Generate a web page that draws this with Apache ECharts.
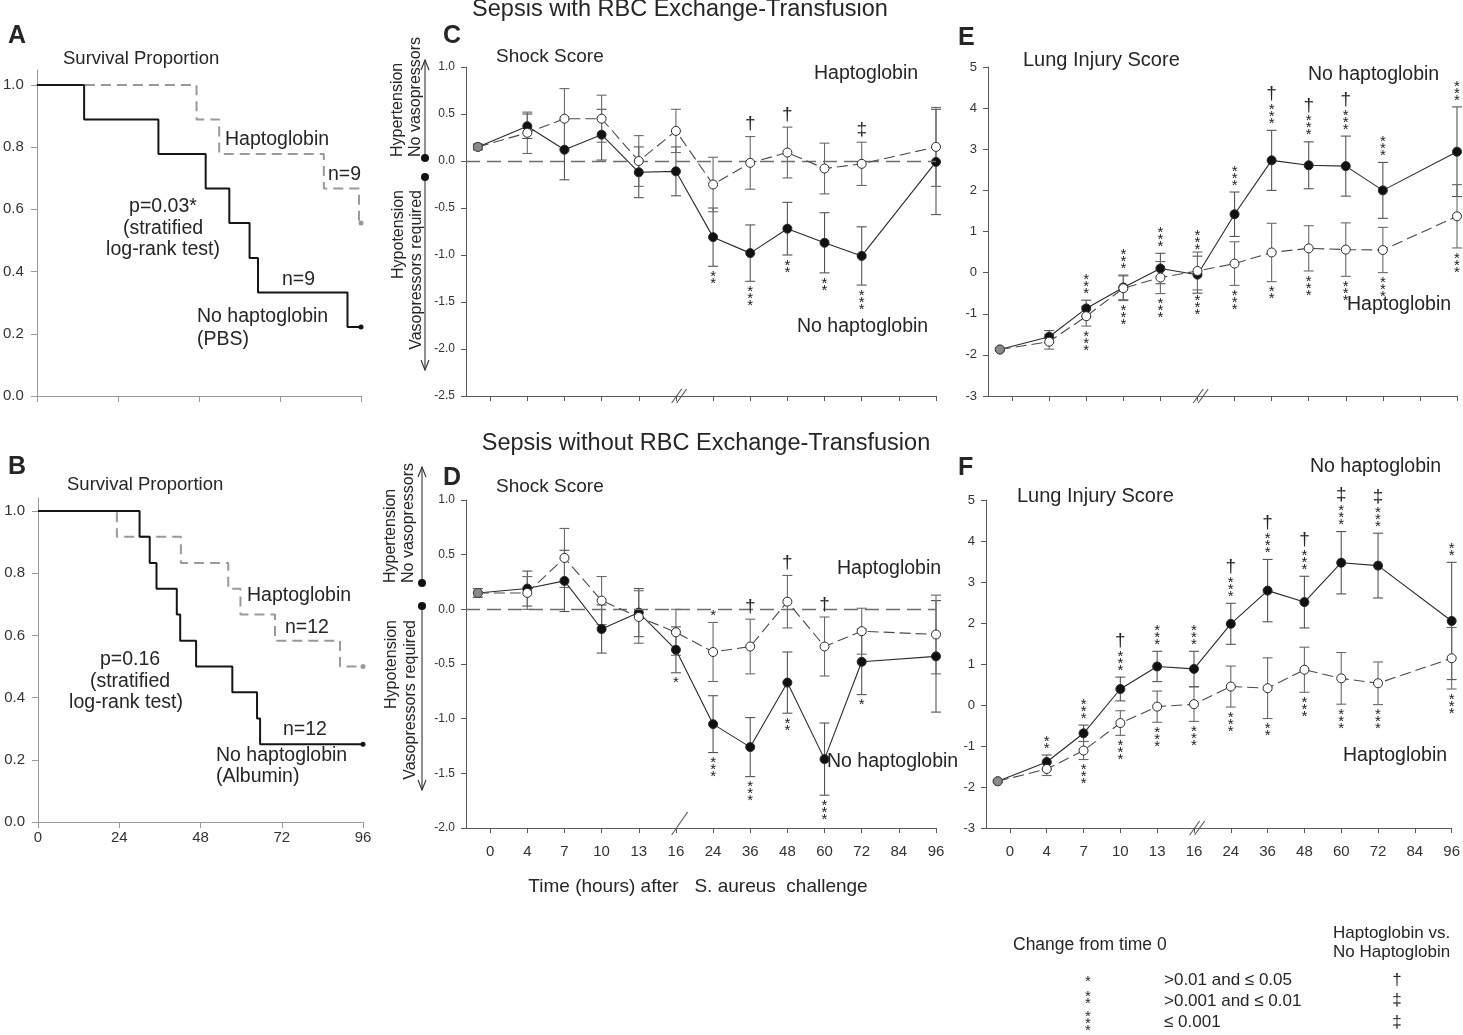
<!DOCTYPE html>
<html><head><meta charset="utf-8">
<script src="https://cdn.jsdelivr.net/npm/echarts@6/dist/echarts.min.js"></script>
<style>html,body{margin:0;padding:0;background:#fff}#c{width:1463px;height:1035px}</style>
</head><body><div id="c"></div>
<script>
// ================= DATA =================
// Survival (Kaplan-Meier) – event times (h) and survival proportions
const survivalTicks = [0, 24, 48, 72, 96];
const survivalYTicks = [0, 0.2, 0.4, 0.6, 0.8, 1.0];

const A_noHp_time = [0, 14, 36, 50, 57, 63, 65.5, 92, 96];
const A_noHp_surv = [1, 0.889, 0.778, 0.667, 0.556, 0.444, 0.333, 0.222, 0.222];
const A_hp_time = [0, 47.3, 54, 85, 95.4, 96];
const A_hp_surv = [1, 0.889, 0.778, 0.667, 0.556, 0.556];

const B_noHp_time = [0, 30, 33, 35, 41, 42, 46.7, 57.4, 64.7, 65.6, 96];
const B_noHp_surv = [1, 0.917, 0.833, 0.75, 0.667, 0.583, 0.5, 0.417, 0.333, 0.25, 0.25];
const B_hp_time = [0, 23.3, 42.2, 56.2, 59.8, 70, 89.2, 96];
const B_hp_surv = [1, 0.917, 0.833, 0.75, 0.667, 0.583, 0.5, 0.5];

// Time axis of score panels (tick labels) and measured time points
const timeTicks = ['0', '4', '7', '10', '13', '16', '24', '36', '48', '60', '72', '84', '96'];
const pointTimes = ['0', '4', '7', '10', '13', '16', '24', '36', '48', '60', '72', '96'];

// C – Shock score, with RBC exchange
const C_noHp    = [0.15, 0.37, 0.12, 0.28, -0.12, -0.11, -0.81, -0.98, -0.72, -0.87, -1.01, -0.01];
const C_noHp_se = [0.03, 0.13, 0.32, 0.27, 0.27, 0.26, 0.31, 0.30, 0.28, 0.32, 0.31, 0.56];
const C_hp      = [0.15, 0.30, 0.45, 0.45, 0.00, 0.32, -0.25, -0.02, 0.09, -0.08, -0.03, 0.15];
const C_hp_se   = [0.03, 0.22, 0.32, 0.25, 0.27, 0.23, 0.29, 0.28, 0.27, 0.27, 0.23, 0.42];
const C_noHp_sig = ['', '', '', '', '', '', '**', '***', '**', '**', '***', ''];
const C_hp_sig   = ['', '', '', '', '', '', '', '', '', '', '', ''];
const C_cmp      = ['', '', '', '', '', '', '', '†', '†', '', '‡', ''];

// D – Shock score, without RBC exchange
const D_noHp    = [0.15, 0.19, 0.26, -0.18, -0.03, -0.37, -1.05, -1.26, -0.67, -1.37, -0.48, -0.43];
const D_noHp_se = [0.04, 0.16, 0.28, 0.22, 0.22, 0.21, 0.26, 0.27, 0.28, 0.33, 0.30, 0.51];
const D_hp      = [0.15, 0.15, 0.47, 0.08, -0.07, -0.21, -0.39, -0.34, 0.07, -0.34, -0.20, -0.23];
const D_hp_se   = [0.04, 0.15, 0.27, 0.22, 0.24, 0.21, 0.27, 0.25, 0.24, 0.27, 0.21, 0.36];
const D_noHp_sig = ['', '', '', '', '', '*', '***', '***', '**', '***', '*', ''];
const D_hp_sig   = ['', '', '', '', '', '', '*', '', '', '', '', ''];
const D_cmp      = ['', '', '', '', '', '', '', '†', '†', '†', '', ''];

// E – Lung injury score, with RBC exchange
const E_noHp    = [-1.87, -1.56, -0.87, -0.36, 0.10, -0.05, 1.42, 2.73, 2.61, 2.59, 2.00, 2.94];
const E_noHp_se = [0.03, 0.15, 0.20, 0.30, 0.37, 0.45, 0.54, 0.73, 0.57, 0.73, 0.68, 1.09];
const E_hp      = [-1.87, -1.68, -1.06, -0.38, -0.12, 0.04, 0.22, 0.49, 0.59, 0.56, 0.55, 1.37];
const E_hp_se   = [0.03, 0.18, 0.24, 0.30, 0.39, 0.46, 0.53, 0.71, 0.55, 0.65, 0.55, 0.77];
const E_noHp_sig = ['', '', '***', '***', '***', '***', '***', '***', '***', '***', '***', '***'];
const E_hp_sig   = ['', '', '***', '***', '***', '***', '***', '**', '***', '***', '***', '***'];
const E_cmp      = ['', '', '', '', '', '', '', '†', '†', '†', '', ''];

// F – Lung injury score, without RBC exchange
const F_noHp    = [-1.86, -1.39, -0.69, 0.39, 0.94, 0.88, 1.98, 2.79, 2.51, 3.47, 3.40, 2.05];
const F_noHp_se = [0.03, 0.17, 0.20, 0.29, 0.37, 0.43, 0.50, 0.76, 0.63, 0.76, 0.79, 1.43];
const F_hp      = [-1.86, -1.56, -1.11, -0.44, -0.04, 0.02, 0.45, 0.41, 0.86, 0.65, 0.53, 1.14];
const F_hp_se   = [0.03, 0.16, 0.22, 0.30, 0.38, 0.42, 0.50, 0.74, 0.55, 0.63, 0.52, 0.75];
const F_noHp_sig = ['', '**', '***', '***', '***', '***', '***', '***', '***', '***', '***', '**'];
const F_hp_sig   = ['', '', '***', '***', '***', '***', '***', '**', '***', '***', '***', '***'];
const F_cmp      = ['', '', '', '†', '', '', '†', '†', '†', '‡', '‡', ''];

// ================= LAYOUT / STYLE =================
const FONT = '"Liberation Sans", Arial, Helvetica, sans-serif';
const TXT = '#262626';
const BASE_SLOT = -0.33;   // time-0 baseline is drawn just left of the "0" tick
const X_MIN = -0.65, X_MAX = 12, BREAK_SLOT = 5.1;
function slotOf(i) { return i === 0 ? BASE_SLOT : timeTicks.indexOf(pointTimes[i]); }
const tickSlots = timeTicks.map((_, i) => i);

const panels = [
  { grid: { left: 466, top: 67, width: 470, height: 329 }, y: [-2.5, 1, 0.5, 1], yFont: 12,
    no: C_noHp, noSe: C_noHp_se, hp: C_hp, hpSe: C_hp_se, noSig: C_noHp_sig, hpSig: C_hp_sig, cmp: C_cmp,
    noAbove: false, xLabels: false, zero: true, breaks: 2 },
  { grid: { left: 466, top: 500, width: 470, height: 328 }, y: [-2, 1, 0.5, 1], yFont: 12,
    no: D_noHp, noSe: D_noHp_se, hp: D_hp, hpSe: D_hp_se, noSig: D_noHp_sig, hpSig: D_hp_sig, cmp: D_cmp,
    noAbove: false, xLabels: true, zero: true, breaks: 1 },
  { grid: { left: 988, top: 67, width: 469, height: 329 }, y: [-3, 5, 1, 0], yFont: 13,
    no: E_noHp, noSe: E_noHp_se, hp: E_hp, hpSe: E_hp_se, noSig: E_noHp_sig, hpSig: E_hp_sig, cmp: E_cmp,
    noAbove: true, xLabels: false, zero: false, breaks: 2 },
  { grid: { left: 986, top: 500, width: 468, height: 328 }, y: [-3, 5, 1, 0], yFont: 13,
    no: F_noHp, noSe: F_noHp_se, hp: F_hp, hpSe: F_hp_se, noSig: F_noHp_sig, hpSig: F_hp_sig, cmp: F_cmp,
    noAbove: true, xLabels: true, zero: false, breaks: 2 }
];

const grids = [
  { left: 36, top: 70, width: 325, height: 326 },
  { left: 38, top: 498, width: 325, height: 324 }
];
const xAxes = [], yAxes = [], series = [];

// ---- survival panels ----
const survMax = [1.048, 1.042];
[0, 1].forEach(gi => {
  xAxes.push({ type: 'value', gridIndex: gi, min: 0, max: 96,
    axisLine: { onZero: false, lineStyle: { color: '#9a9a9a', width: 1 } },
    axisTick: { show: true, length: 6, customValues: survivalTicks, lineStyle: { color: '#9a9a9a' } },
    axisLabel: { show: gi === 1, customValues: survivalTicks, fontSize: 15, color: '#333', fontFamily: FONT, margin: 8 },
    splitLine: { show: false } });
  yAxes.push({ type: 'value', gridIndex: gi, min: 0, max: survMax[gi],
    axisLine: { show: true, onZero: false, lineStyle: { color: '#9a9a9a', width: 1 } },
    axisTick: { show: true, length: 6, customValues: survivalYTicks, lineStyle: { color: '#9a9a9a' } },
    axisLabel: { customValues: survivalYTicks, formatter: v => v.toFixed(1), fontSize: 15, color: '#333', fontFamily: FONT, margin: 13 },
    splitLine: { show: false } });
});
function kmSeries(gi, times, surv, color, dashed) {
  const last = times.length - 1;
  return { type: 'line', xAxisIndex: gi, yAxisIndex: gi, step: 'end', silent: true,
    data: times.map((t, i) => [t, surv[i]]),
    symbol: 'circle', showSymbol: true, showAllSymbol: true,
    symbolSize: (v, p) => (p.dataIndex === last ? 5 : 0),
    lineStyle: { color, width: 2, type: dashed ? [10, 6] : 'solid' },
    itemStyle: { color }, z: dashed ? 2 : 3 };
}
series.push(kmSeries(0, A_hp_time, A_hp_surv, '#9a9a9a', true));
series.push(kmSeries(0, A_noHp_time, A_noHp_surv, '#151515', false));
series.push(kmSeries(1, B_hp_time, B_hp_surv, '#9a9a9a', true));
series.push(kmSeries(1, B_noHp_time, B_noHp_surv, '#151515', false));

// ---- score panels ----
function errorSeries(gi, vals, ses, color, z) {
  return { type: 'custom', xAxisIndex: gi, yAxisIndex: gi, silent: true, z,
    data: vals.map((v, i) => [slotOf(i), v, ses[i]]),
    renderItem(params, api) {
      const s = api.value(0), v = api.value(1), e = api.value(2);
      const a = api.coord([s, v + e]), b = api.coord([s, v - e]), w = 5;
      const st = { stroke: color, lineWidth: 1.1 };
      return { type: 'group', children: [
        { type: 'line', shape: { x1: a[0], y1: a[1], x2: b[0], y2: b[1] }, style: st },
        { type: 'line', shape: { x1: a[0] - w, y1: a[1], x2: a[0] + w, y2: a[1] }, style: st },
        { type: 'line', shape: { x1: b[0] - w, y1: b[1], x2: b[0] + w, y2: b[1] }, style: st }] };
    } };
}
function scoreLine(gi, vals, filled, zero) {
  const s = { type: 'line', xAxisIndex: gi, yAxisIndex: gi, silent: true,
    data: vals.map((v, i) => ({ value: [slotOf(i), v],
      itemStyle: i === 0 ? { color: '#8a8a8a', borderColor: '#444', borderWidth: 1 } : undefined })),
    symbol: 'circle', symbolSize: 9, showAllSymbol: true,
    lineStyle: { color: filled ? '#2a2a2a' : '#4a4a4a', width: 1.1, type: filled ? 'solid' : [11, 5] },
    itemStyle: { color: filled ? '#111' : '#fff', borderColor: '#2a2a2a', borderWidth: 1 },
    z: filled ? 4 : 5 };
  if (zero) s.markLine = { silent: true, symbol: 'none', animation: false, label: { show: false },
    lineStyle: { type: [14, 7], color: '#6e6e6e', width: 1.4 }, data: [{ yAxis: 0 }] };
  return s;
}
function stackText(s) { return s.split('').join('\n'); }
function annotSeries(p, gi) {
  const STAR_LH = 7;
  return { type: 'custom', xAxisIndex: gi, yAxisIndex: gi, silent: true, z: 20,
    data: pointTimes.map((t, i) => [slotOf(i), p.no[i], p.noSe[i], p.hp[i], p.hpSe[i]]),
    renderItem(params, api) {
      const i = params.dataIndex, s = api.value(0);
      const noTop = api.coord([s, api.value(1) + api.value(2)]);
      const noBot = api.coord([s, api.value(1) - api.value(2)]);
      const hpTop = api.coord([s, api.value(3) + api.value(4)]);
      const hpBot = api.coord([s, api.value(3) - api.value(4)]);
      const x = noTop[0], kids = [];
      const star = (txt, y, va) => ({ type: 'text', style: { text: stackText(txt), x, y, align: 'center',
        verticalAlign: va, font: '15px ' + FONT, lineHeight: STAR_LH, fill: '#1a1a1a' } });
      const dag = (txt, y) => ({ type: 'text', style: { text: txt, x, y, align: 'center',
        verticalAlign: 'bottom', font: '19px ' + FONT, fill: TXT } });
      const upper = p.noAbove ? { sig: p.noSig[i], cap: noTop[1] } : { sig: p.hpSig[i], cap: hpTop[1] };
      const lower = p.noAbove ? { sig: p.hpSig[i], cap: hpBot[1] } : { sig: p.noSig[i], cap: noBot[1] };
      let top = upper.cap - 3;
      if (upper.sig) { kids.push(star(upper.sig, top, 'bottom')); top -= upper.sig.length * STAR_LH + 3; }
      if (p.cmp[i]) kids.push(dag(p.cmp[i], top));
      if (lower.sig) kids.push(star(lower.sig, lower.cap + 7, 'top'));
      return { type: 'group', children: kids };
    } };
}
function breakSeries(gi, yMin, count) {
  return { type: 'custom', xAxisIndex: gi, yAxisIndex: gi, silent: true, z: 30, data: [[BREAK_SLOT, yMin]],
    renderItem(params, api) {
      const c = api.coord([api.value(0), api.value(1)]);
      const st = { stroke: '#555', lineWidth: 1.1 };
      if (count === 1) return { type: 'line', shape: { x1: c[0] - 8, y1: c[1] + 7, x2: c[0] + 8, y2: c[1] - 16 }, style: st };
      return { type: 'group', children: [
        { type: 'line', shape: { x1: c[0] - 8, y1: c[1] + 7, x2: c[0] + 2, y2: c[1] - 7 }, style: st },
        { type: 'line', shape: { x1: c[0] - 3, y1: c[1] + 7, x2: c[0] + 7, y2: c[1] - 7 }, style: st }] };
    } };
}

panels.forEach((p, k) => {
  const gi = k + 2;
  grids.push(p.grid);
  xAxes.push({ type: 'value', gridIndex: gi, min: X_MIN, max: X_MAX,
    axisLine: { onZero: false, lineStyle: { color: '#5a5a5a', width: 1 } },
    axisTick: { show: true, length: 5, customValues: tickSlots, lineStyle: { color: '#5a5a5a' } },
    axisLabel: { show: p.xLabels, customValues: tickSlots, formatter: v => timeTicks[Math.round(v)],
      fontSize: 15, color: '#333', fontFamily: FONT, margin: 16 },
    splitLine: { show: false } });
  yAxes.push({ type: 'value', gridIndex: gi, min: p.y[0], max: p.y[1], interval: p.y[2],
    axisLine: { show: true, onZero: false, lineStyle: { color: '#5a5a5a', width: 1 } },
    axisTick: { show: true, length: 5, lineStyle: { color: '#5a5a5a' } },
    axisLabel: { formatter: v => v.toFixed(p.y[3]), fontSize: p.yFont, color: '#333', fontFamily: FONT, margin: 11 },
    splitLine: { show: false } });
  series.push(errorSeries(gi, p.no, p.noSe, '#555', 2));
  series.push(errorSeries(gi, p.hp, p.hpSe, '#6a6a6a', 2));
  series.push(scoreLine(gi, p.no, true, p.zero));
  series.push(scoreLine(gi, p.hp, false, false));
  series.push(annotSeries(p, gi));
  series.push(breakSeries(gi, p.y[0], p.breaks));
});

// ---- free text ----
function T(text, x, y, size, opt) {
  opt = opt || {};
  return { type: 'text', x, y, rotation: opt.rot || 0, silent: true, z: 50,
    style: { text, font: (opt.bold ? 'bold ' : '') + size + 'px ' + FONT, fill: opt.color || TXT,
      align: opt.align || 'left', textAlign: opt.align || 'left',
      verticalAlign: opt.va || 'middle', textVerticalAlign: opt.va || 'middle', lineHeight: opt.lh } };
}
const R = Math.PI / 2;
const graphic = [
  // panel letters
  T('A', 8, 36, 25, { bold: true }), T('B', 8, 467, 25, { bold: true }),
  T('C', 443, 36, 25, { bold: true }), T('D', 443, 478, 25, { bold: true }),
  T('E', 958, 38, 25, { bold: true }), T('F', 958, 468, 25, { bold: true }),
  // titles
  T('Sepsis with RBC Exchange-Transfusion', 680, 10, 23.5, { align: 'center' }),
  T('Sepsis without RBC Exchange-Transfusion', 706, 444, 23.5, { align: 'center' }),
  // A
  T('Survival Proportion', 63, 59, 18.5),
  T('Haptoglobin', 225, 140, 19.5), T('n=9', 328, 175, 19.5),
  T('p=0.03*', 163, 207, 19.5, { align: 'center' }), T('(stratified', 163, 229, 19.5, { align: 'center' }),
  T('log-rank test)', 163, 250, 19.5, { align: 'center' }),
  T('n=9', 282, 280, 19.5), T('No haptoglobin', 197, 317, 19.5), T('(PBS)', 197, 340, 19.5),
  // B
  T('Survival Proportion', 67, 485, 18.5),
  T('Haptoglobin', 247, 596, 19.5), T('n=12', 285, 628, 19.5),
  T('p=0.16', 130, 660, 19.5, { align: 'center' }), T('(stratified', 130, 682, 19.5, { align: 'center' }),
  T('log-rank test)', 126, 703, 19.5, { align: 'center' }),
  T('n=12', 283, 730, 19.5), T('No haptoglobin', 216, 756, 19.5), T('(Albumin)', 216, 777, 19.5),
  // C
  T('Shock Score', 496, 57, 19), T('Haptoglobin', 814, 74, 19.5), T('No haptoglobin', 797, 327, 19.5),
  T('Hypertension', 398, 157, 16, { rot: R }), T('No vasopressors', 416, 157, 16, { rot: R }),
  T('Hypotension', 399, 190, 16, { rot: R, align: 'right' }), T('Vasopressors required', 417, 190, 16, { rot: R, align: 'right' }),
  // D
  T('Shock Score', 496, 487, 19), T('Haptoglobin', 837, 569, 19.5), T('No haptoglobin', 827, 762, 19.5),
  T('Hypertension', 391, 583, 16, { rot: R }), T('No vasopressors', 409, 583, 16, { rot: R }),
  T('Hypotension', 392, 620, 16, { rot: R, align: 'right' }), T('Vasopressors required', 411, 620, 16, { rot: R, align: 'right' }),
  T('Time (hours) after   S. aureus  challenge', 698, 887, 19, { align: 'center' }),
  // E
  T('Lung Injury Score', 1023, 60, 20), T('No haptoglobin', 1308, 75, 19.5), T('Haptoglobin', 1347, 305, 19.5),
  // F
  T('Lung Injury Score', 1017, 496, 20), T('No haptoglobin', 1310, 467, 19.5), T('Haptoglobin', 1343, 756, 19.5),
  // significance key
  T('Change from time 0', 1013, 945, 17.5),
  T('Haptoglobin vs.', 1333, 933, 17), T('No Haptoglobin', 1333, 952, 17),
  T('*', 1088, 982, 15, { align: 'center' }),
  T('*\n*', 1088, 1000, 15, { align: 'center', lh: 7 }),
  T('*\n*\n*', 1088, 1024, 15, { align: 'center', lh: 7 }),
  T('>0.01 and ≤ 0.05', 1164, 980, 17), T('>0.001 and ≤ 0.01', 1164, 1001, 17), T('≤ 0.001', 1164, 1022, 17),
  T('†', 1397, 980, 17, { align: 'center' }), T('‡', 1397, 1000, 17, { align: 'center' }), T('‡', 1397, 1022, 17, { align: 'center' })
];
// vertical arrows + dots beside the shock-score axes
function arrowPair(x, yDot1, yTop, yDot2, yBot) {
  const st = { stroke: '#333', lineWidth: 1.1, fill: null };
  return [
    { type: 'line', shape: { x1: x, y1: yDot1, x2: x, y2: yTop }, style: st, silent: true },
    { type: 'polyline', shape: { points: [[x - 4, yTop + 10], [x, yTop], [x + 4, yTop + 10]] }, style: st, silent: true },
    { type: 'line', shape: { x1: x, y1: yDot2, x2: x, y2: yBot }, style: st, silent: true },
    { type: 'polyline', shape: { points: [[x - 4, yBot - 10], [x, yBot], [x + 4, yBot - 10]] }, style: st, silent: true },
    { type: 'circle', shape: { cx: x, cy: yDot1, r: 4 }, style: { fill: '#111' }, silent: true },
    { type: 'circle', shape: { cx: x, cy: yDot2, r: 4 }, style: { fill: '#111' }, silent: true }
  ];
}
graphic.push(...arrowPair(425, 158, 60, 177, 370));
graphic.push(...arrowPair(422, 583, 467, 606, 790));

const chart = echarts.init(document.getElementById('c'), null, { renderer: 'canvas' });
chart.setOption({
  animation: false,
  backgroundColor: '#fff',
  textStyle: { fontFamily: FONT },
  grid: grids, xAxis: xAxes, yAxis: yAxes, series, graphic
});
</script></body></html>
